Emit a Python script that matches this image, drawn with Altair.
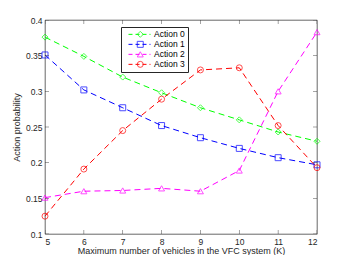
import altair as alt
import pandas as pd

K = [5, 6, 7, 8, 9, 10, 11, 12]
series = ["Action 0", "Action 1", "Action 2", "Action 3"]
a0 = [0.376, 0.349, 0.320, 0.298, 0.277, 0.260, 0.243, 0.230]
a1 = [0.351, 0.302, 0.277, 0.252, 0.235, 0.220, 0.207, 0.197]
a2 = [0.151, 0.160, 0.161, 0.164, 0.160, 0.189, 0.300, 0.383]
a3 = [0.125, 0.191, 0.245, 0.289, 0.330, 0.333, 0.252, 0.193]
yticks = [0.1, 0.15, 0.2, 0.25, 0.3, 0.35, 0.4]
xdom = [5, 12]
ydom = [0.1, 0.4]

colors = ["#00FF00", "#0000FF", "#FF00FF", "#FF0000"]
shapes = ["diamond", "square", "triangle-up", "circle"]

rows = []
for name, vals in zip(series, [a0, a1, a2, a3]):
    for k, v in zip(K, vals):
        rows.append({"K": k, "p": v, "action": name, "action_m": name})
df = pd.DataFrame(rows)
# tick marks on all four sides of the box
xt = pd.DataFrame([{"K": k, "p": yv} for yv in ydom for k in K])
yt = pd.DataFrame([{"K": xv, "p": yv} for xv in xdom for yv in yticks])

AX = "#262626"
FONT = "Liberation Sans"

xaxis = alt.Axis(values=K, title="Maximum number of vehicles in the VFC system (K)",
                 ticks=False, domain=False, grid=False, labelPadding=3,
                 titlePadding=1, labelOverlap=False)
yaxis = alt.Axis(values=yticks, format="~g", title="Action probability",
                 ticks=False, domain=False, grid=False, labelPadding=3,
                 titlePadding=4, labelOverlap=False)
xenc = alt.X("K:Q", scale=alt.Scale(domain=xdom, nice=False), axis=xaxis)
yenc = alt.Y("p:Q", scale=alt.Scale(domain=ydom, nice=False, zero=False), axis=yaxis)

LX, LY = 76, 7
common = dict(orient="none", legendX=LX, legendY=LY, title=None, padding=3,
              rowPadding=1, clipHeight=8.7, labelOffset=3, labelFontSize=8.5,
              labelFont=FONT, labelLimit=60)

DASH = [6, 4]

lines = alt.Chart(df).mark_line(strokeDash=DASH, strokeWidth=1).encode(
    x=xenc, y=yenc,
    color=alt.Color("action:N", scale=alt.Scale(domain=series, range=colors),
                    legend=alt.Legend(symbolType="stroke", symbolSize=484, symbolDash=[4, 3],
                                      symbolStrokeWidth=1, symbolOffset=4,
                                      labelColor="#000000", strokeColor=AX,
                                      fillColor="white", **common)),
    detail="action:N",
)

leg2 = dict(symbolSize=36, symbolStrokeWidth=1, symbolOffset=12, labelExpr="''",
            symbolFillColor="transparent", **common)

points = alt.Chart(df).mark_point(filled=False, size=36, strokeWidth=1).encode(
    x=xenc, y=yenc,
    color=alt.Color("action_m:N", scale=alt.Scale(domain=series, range=colors),
                    legend=alt.Legend(**leg2)),
    shape=alt.Shape("action_m:N", scale=alt.Scale(domain=series, range=shapes),
                    legend=alt.Legend(**leg2)),
)

tick_style = dict(size=8, thickness=0.6, clip=True, color=AX)
xticks_m = alt.Chart(xt).mark_tick(orient="vertical", **tick_style).encode(x=xenc, y=yenc)
yticks_m = alt.Chart(yt).mark_tick(orient="horizontal", **tick_style).encode(x=xenc, y=yenc)

chart = alt.layer(lines, points, xticks_m, yticks_m).resolve_scale(
    color="independent", shape="independent"
).properties(
    width=272, height=214,
    autosize=alt.AutoSizeParams(type="none"),
    padding={"left": 37, "top": 12, "right": 25, "bottom": 21},
    background="white",
).configure_view(stroke=AX, strokeWidth=0.7).configure_axis(
    labelFont=FONT, titleFont=FONT, labelFontSize=8.5, titleFontSize=9,
    labelColor=AX, titleColor=AX, titleFontWeight="normal", labelOverlap=False,
)

chart.save("out.html", embed_options={"renderer": "svg", "actions": False})
